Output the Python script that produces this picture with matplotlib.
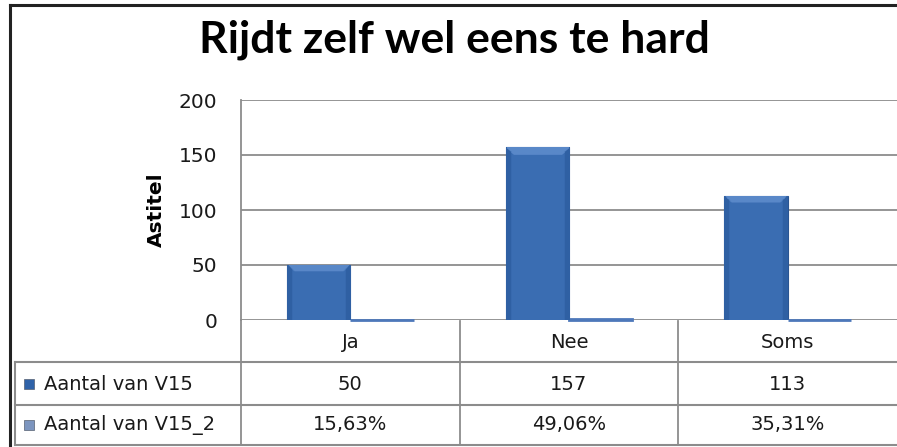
import matplotlib
matplotlib.use("Agg")
import matplotlib.pyplot as plt
import numpy as np
from matplotlib.transforms import blended_transform_factory
from matplotlib.lines import Line2D
from matplotlib.patches import Rectangle

# ---- data ----
categories = ["Ja", "Nee", "Soms"]
series_names = ["Aantal van V15", "Aantal van V15_2"]
counts = [50, 157, 113]
shares = [0.1563, 0.4906, 0.3531]
share_labels = ["15,63%", "49,06%", "35,31%"]
count_labels = ["50", "157", "113"]
yticks = [0, 50, 100, 150, 200]
title = "Rijdt zelf wel eens te hard"
ylabel = "Astitel"

W, H = 897, 447
fig = plt.figure(figsize=(W / 100, H / 100), dpi=100)
fig.patch.set_facecolor("white")

GRID = "#8c8c8c"
C1 = "#3a6db2"
C1E = "#2a5592"
C2 = "#4d78ba"

ax = fig.add_axes([241 / W, 1 - 320 / H, (W - 241) / W, 220 / H])
ax.set_xlim(-0.5, 2.5)
ax.set_ylim(0, 200)
ax.set_yticks(yticks)
ax.set_yticklabels([str(v) for v in yticks], fontsize=14.5, color="#1a1a1a")
ax.tick_params(axis="y", length=0, pad=17)
ax.set_xticks([])
for s in ["top", "right", "bottom"]:
    ax.spines[s].set_visible(False)
ax.spines["left"].set_color(GRID)
ax.spines["left"].set_linewidth(1.3)
ax.grid(axis="y", color=GRID, linewidth=1.3)
ax.set_axisbelow(True)
ax.set_ylabel(ylabel, fontsize=14.5, fontweight="bold")
ax.yaxis.set_label_coords(-0.115, 0.5)

x = np.arange(len(categories))
bw = 0.29
bars1 = ax.bar(x - bw / 2, counts, width=bw, color=C1, edgecolor=C1E, linewidth=0.8, zorder=3)
bars2 = ax.bar(x + bw / 2, shares, width=bw, color=C2, edgecolor=C2, linewidth=2.0, zorder=3)
for b in bars2:
    b.set_clip_on(False)

# bevel-like gradient fill clipped to each main bar
cmap = matplotlib.colors.LinearSegmentedColormap.from_list("b", ["#1f4f8f", "#3a6db2", "#6f9ad8"])
for b in bars1:
    x0, y0 = b.get_x(), b.get_y()
    w, h = b.get_width(), b.get_height()
    ny, nx = 200, 60
    xx = np.linspace(0, 1, nx)
    yy = np.linspace(0, 1, ny)
    X, Y = np.meshgrid(xx, yy)
    edge = np.minimum(X, 1 - X)
    img = np.where(edge < 0.07, 0.45, 0.55 + 0.0 * X)
    hpx = h / 200 * 220
    top_frac = min(7 / max(hpx, 1), 0.5)
    dist_top = (1 - Y) * hpx / (w * 219)  # relative
    img = np.where((Y > 1 - top_frac) & (edge > (1 - Y) * hpx / 64), 0.70, img)
    im = ax.imshow(img, extent=[x0, x0 + w, y0, y0 + h], origin="lower", aspect="auto",
                   cmap=cmap, vmin=0.3, vmax=0.8, zorder=3.5)
    im.set_clip_path(b)
ax.set_xlim(-0.5, 2.5)
ax.set_ylim(0, 200)

# overlay for table and border (pixel coords)
ov = fig.add_axes([0, 0, 1, 1], zorder=5)
ov.set_xlim(0, W)
ov.set_ylim(H, 0)
ov.axis("off")
ov.patch.set_alpha(0)
tr = blended_transform_factory(ax.transData, ov.transData)

# outer chart border
ov.add_line(Line2D([10, 10], [4.5, H], color="#222222", linewidth=2.2))
ov.add_line(Line2D([10, W], [4.5, 4.5], color="#222222", linewidth=2.2))

# table grid
row_y = [320, 362, 405, 445]
bounds = [-0.5, 0.5, 1.5, 2.5]
for yy_ in row_y[1:]:
    ov.add_line(Line2D([15, W], [yy_, yy_], color=GRID, linewidth=1.5))
ov.add_line(Line2D([15, 15], [362, 445], color=GRID, linewidth=1.5))
ov.add_line(Line2D([-0.5, -0.5], [320, 445], color=GRID, linewidth=1.3, transform=tr))
for bx in bounds[1:3]:
    ov.add_line(Line2D([bx, bx], [321, 445], color=GRID, linewidth=1.3, transform=tr))

txt_kw = dict(fontsize=14, color="#1a1a1a", va="center", ha="center")
for i, cat in enumerate(categories):
    ov.text(i, 342, cat, transform=tr, **txt_kw)
    ov.text(i, 384, count_labels[i], transform=tr, **txt_kw)
    ov.text(i, 425, share_labels[i], transform=tr, **txt_kw)

# series labels with markers
marker_cols = ["#2f62a8", "#7c95bf"]
for j, (name, yc) in enumerate(zip(series_names, [384, 425])):
    ov.add_patch(Rectangle((24, yc - 5), 10, 10, facecolor=marker_cols[j], edgecolor="#555f70", linewidth=0.5))
    ov.text(44, yc, name, fontsize=14, color="#1a1a1a", va="center", ha="left")

fig.text(454 / W, 1 - 40 / H, title, fontsize=32, fontweight="bold", family="Lato",
         ha="center", va="center", color="black")

fig.savefig("out.png", dpi=100)
